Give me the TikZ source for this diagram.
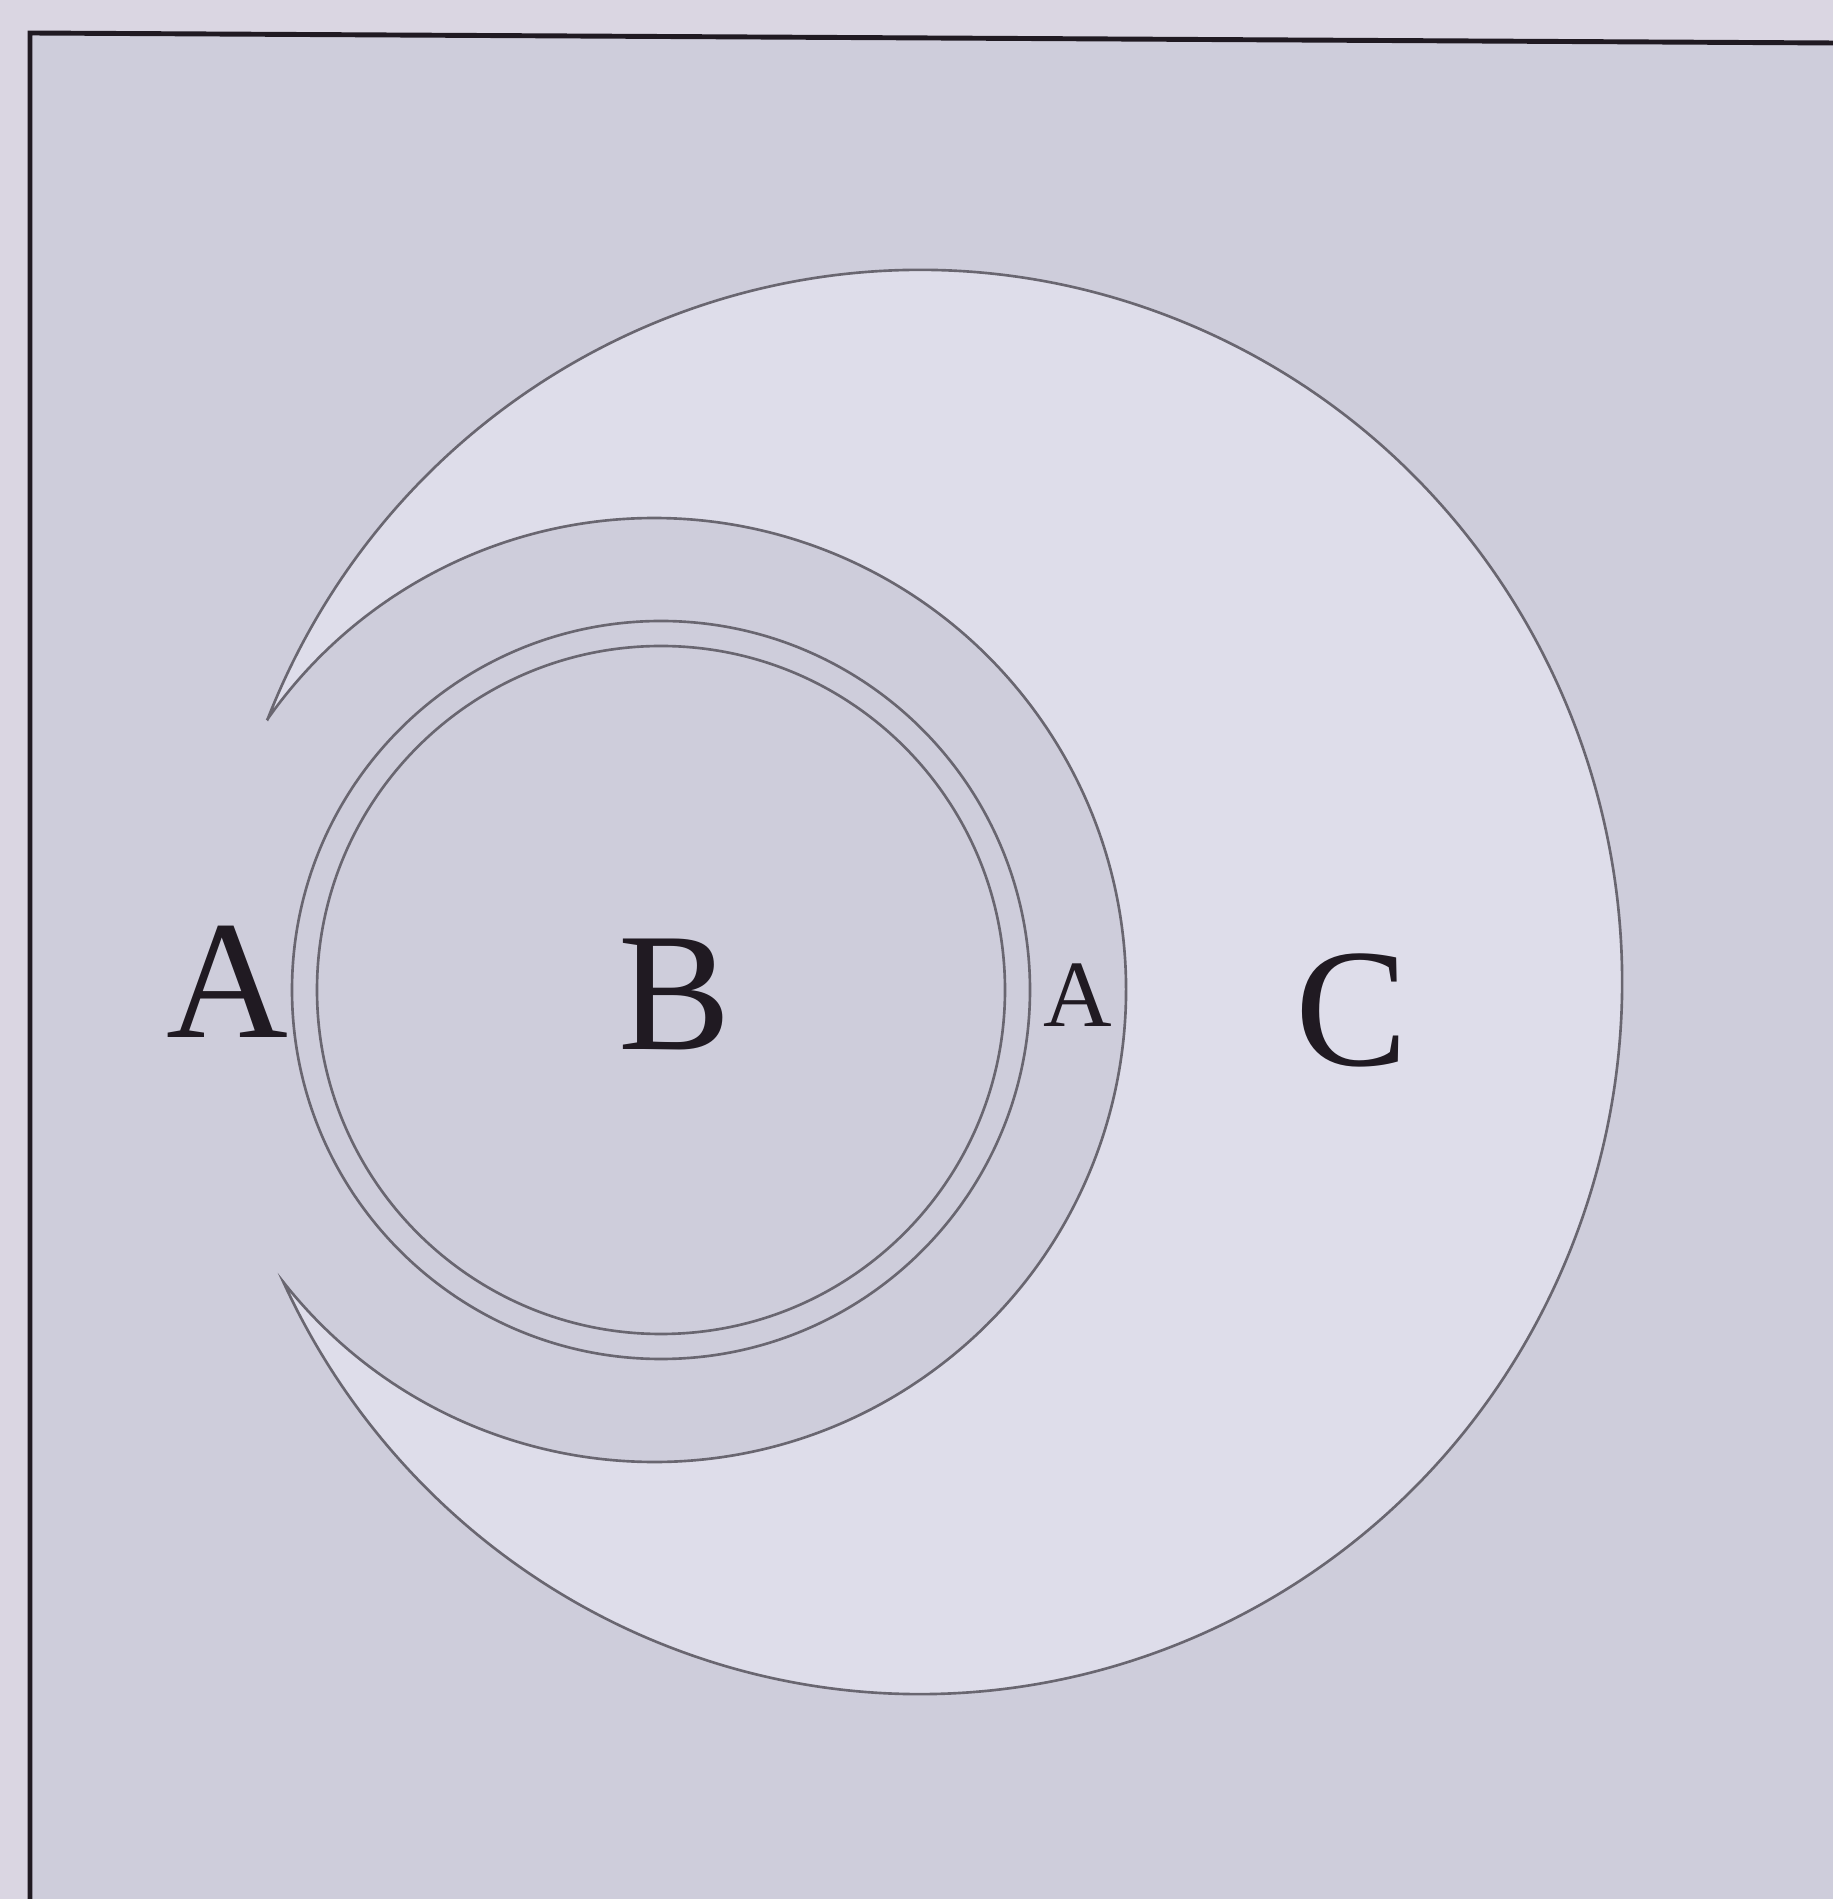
\documentclass[tikz,border=0pt]{standalone}
\usepackage{fontspec}
\setmainfont{Liberation Serif}
\usepackage{tikz}
\definecolor{paper}{RGB}{218,214,226}
\definecolor{panel}{RGB}{206,205,219}
\definecolor{moon}{RGB}{222,221,234}
\definecolor{rimgrey}{RGB}{105,102,112}
\definecolor{ink}{RGB}{32,26,34}

\begin{document}
\begin{tikzpicture}[x=0.01cm,y=0.01cm,
  ringline/.style={draw=rimgrey,line width=0.75pt},
  bigletter/.style={font=\fontsize{48}{48}\selectfont,text=ink,inner sep=0pt},
  smallletter/.style={font=\fontsize{27}{27}\selectfont,text=ink,inner sep=0pt}
]
  \useasboundingbox (0,0) rectangle (1833,1899);
  \fill[paper] (0,0) rectangle (1833,1899);
  \fill[panel] (30,0) -- (30,1866) -- (1833,1856) -- (1833,0) -- cycle;
  \draw[ink,line width=1.4pt] (30,0) -- (30,1866) -- (1833,1856);

  \coordinate (cC) at (920,917);
  \coordinate (cA) at (654,909);
  \coordinate (cB) at (661,909);

  % C crescent, cut by the A circle
  \filldraw[fill=moon,ringline] ([shift={(158.34:702 and 712)}]cC)
    arc[start angle=158.34,end angle=-155.05,x radius=702,y radius=712]
    arc[start angle=-141.73,end angle=144.98,radius=472] -- cycle;

  % B, double line
  \draw[ringline] (cB) circle[radius=369];
  \draw[ringline] (cB) circle[radius=344];

  \node[bigletter] (leftA) at (227,917) {A};
  \node[bigletter] (labB) at (675,905) {B};
  \node[smallletter] (rightA) at (1078,904) {A};
  \node[bigletter] (labC) at (1352,889) {C};
\end{tikzpicture}
\end{document}
